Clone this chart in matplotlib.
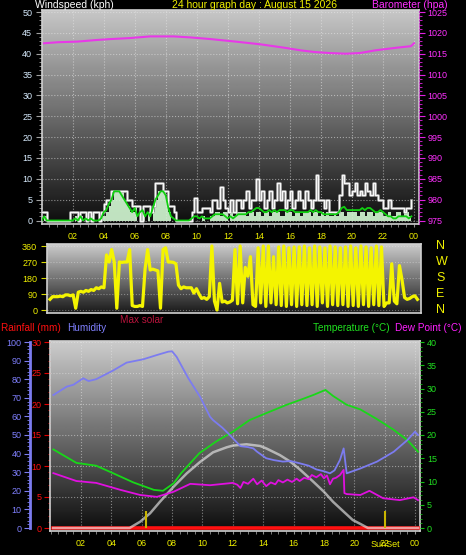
import numpy as np
import matplotlib
matplotlib.use("Agg")
import matplotlib.pyplot as plt
from matplotlib.ticker import MultipleLocator, FixedLocator

plt.rcParams['font.family'] = ['Liberation Sans', 'DejaVu Sans']

W, H = 466, 555

# ---------------- data ----------------
hour_ticks = [2, 4, 6, 8, 10, 12, 14, 16, 18, 20, 22, 24]
hour_labels = ['02', '04', '06', '08', '10', '12', '14', '16', '18', '20', '22', '00']

# wind, 10 minute samples, one row per hour
gust_kph = [
    2, 2, 0, 0, 0, 0,
    0, 0, 0, 0, 0, 2,
    2, 2, 0, 2, 2, 0,
    2, 0, 2, 2, 0, 2,
    4, 5, 5, 7, 7, 7,
    7, 7, 7, 5, 5, 3.5,
    3.5, 3.5, 0, 3.5, 3.5, 3.5,
    2, 3.5, 9, 9, 9, 7,
    7, 3.5, 3.5, 2, 0, 0,
    0, 0, 0, 0, 2, 5.5,
    2, 2, 3, 3, 3, 2,
    5, 5, 3, 8, 5, 3,
    2, 5, 2, 5, 5, 3,
    5, 7, 3, 5, 5, 10,
    5, 7, 3, 5, 7, 3,
    5, 9, 5, 7, 3, 5,
    7, 3, 5, 7, 5, 3,
    7, 5, 3, 5, 10.8, 5,
    5, 3, 5, 2, 2, 2,
    2, 6, 11, 9, 9, 6,
    7, 9, 6, 7, 6, 9,
    7, 6, 9, 6, 5, 5,
    3, 3, 5, 3, 3, 3,
    3, 3, 2, 3, 3, 5,
]
speed_kph = [
    0, 1, 0, 0, 0, 0,
    0, 0, 0, 0, 0, 0,
    0, 1, 0, 1, 0, 0,
    0, 1, 0, 0, 0, 1,
    1, 2, 3.5, 5, 7, 7,
    7, 7, 5, 3.5, 2, 2,
    3.5, 0, 2, 2, 0, 2,
    0, 2, 5, 7, 7, 7,
    5, 2, 0, 0, 0, 0,
    0, 0, 0, 0, 0, 0,
    0, 0, 1, 0, 0, 1,
    1, 2, 2, 1, 2, 2,
    0, 2, 1, 2, 2, 2,
    2, 1, 2, 2, 1, 2,
    2, 1, 2, 2, 1, 2,
    2, 2, 1, 1, 2, 2,
    2, 1, 2, 2, 1, 2,
    2, 2, 1, 2, 2, 1,
    2, 1, 2, 1, 1, 2,
    1, 2, 2, 1, 2, 2,
    2, 2, 1, 2, 2, 1,
    2, 2, 1, 2, 2, 2,
    1, 1, 2, 1, 1, 2,
    2, 1, 2, 2, 1, 2,
]
avg_kph = [
    0, 1, 0, 0, 0, 0,
    0, 0, 0, 0, 0, 0,
    0, 0.5, 0, 1, 0, 0.5,
    0, 0.5, 0, 0, 0, 0.5,
    2, 2.5, 4, 5, 7, 7,
    7, 6, 5, 4, 3, 2,
    3, 1, 2, 2.5, 1, 2,
    1, 3, 5, 6, 7, 7,
    6, 3, 1, 0.5, 0, 0,
    0, 0, 0, 0, 0.5, 1,
    1, 0.5, 1, 0.5, 0.5, 0.5,
    1, 1.5, 1.5, 1.5, 1.5, 1,
    0.5, 1, 0.5, 1, 1.5, 1.5,
    1.5, 1.5, 2, 2, 2.5, 3,
    3, 2.5, 2, 2, 2.5, 2,
    2.5, 2, 2.5, 2.5, 2.5, 2,
    2.5, 2.5, 2, 2, 2, 2,
    2, 2, 2.5, 2, 2.5, 2,
    2, 1.5, 1.5, 1.5, 1.5, 1.5,
    1.5, 2, 3, 3.3, 2.5, 2.5,
    2.5, 2.5, 2.5, 2.5, 3, 2.5,
    3, 3, 2.5, 2, 2, 2.5,
    2, 1.5, 1, 1, 0.5, 0.5,
    1, 1, 1, 1, 0.5, 1,
]
wind_dir = [
    60, 75, 75, 75, 78, 75,
    85, 85, 80, 85, 10, 100,
    105, 100, 110, 105, 115, 110,
    125, 120, 130, 125, 310, 270,
    340, 270, 10, 270, 268, 270,
    270, 340, 25, 20, 20, 25,
    20, 230, 340, 225, 230, 225,
    220, 10, 340, 350, 270, 270,
    268, 260, 140, 120, 130, 125,
    125, 125, 95, 120, 90, 65,
    70, 60, 75, 360, 50, 0,
    150, 45, 50, 40, 45, 55,
    340, 35, 360, 40, 240, 190,
    300, 30, 20, 350, 40, 360,
    20, 360, 40, 300, 30, 355,
    25, 360, 20, 350, 30, 355,
    20, 355, 30, 360, 25, 350,
    30, 360, 20, 355, 40, 350,
    20, 360, 30, 355, 25, 350,
    30, 355, 20, 360, 25, 350,
    20, 360, 30, 355, 20, 350,
    30, 360, 25, 355, 20, 40,
    40, 260, 50, 35, 250, 170,
    70, 60, 65, 75, 80, 60,
]
wind_t = np.arange(len(gust_kph)) / 6.0

baro_t = [0.15, 1.05, 2.3, 3.6, 4.4, 5.7, 7.0, 8.5, 9.6, 10.9, 12.5, 14.1, 15.7, 16.7,
          17.6, 18.6, 19.6, 20.5, 21.5, 22.8, 23.8, 24.0]
baro_hpa = [1017.5, 1017.75, 1017.9, 1018.3, 1018.5, 1018.75, 1019.15, 1019.15, 1018.9,
            1018.5, 1017.9, 1017.25, 1016.4, 1015.8, 1015.4, 1015.15, 1015.0, 1015.15,
            1015.8, 1016.4, 1016.8, 1017.5]

hum_t = [0.18, 1.06, 1.5, 2.15, 2.5, 3.0, 4.1, 5.0, 6.1, 7.0, 7.75, 8.0, 8.3, 9.07, 9.84,
         10.5, 10.7, 11.0, 11.3, 11.8, 12.5, 13.0, 13.35, 13.6, 14.2, 14.7, 15.3, 15.8,
         16.4, 17.0, 17.5, 18.0, 18.4, 18.7, 19.06, 19.3, 19.5, 20.4, 21.5, 22.6, 23.5,
         24.0, 24.2]
hum_pct = [71.5, 76, 77, 80.5, 79, 80, 84.6, 88.9, 90.7, 93, 94.8, 95, 92, 80.5, 70.6,
           59.8, 58, 56, 54, 50, 44, 43.5, 42.8, 41, 37.5, 36.5, 35.7, 36, 34.8, 33.5,
           31.5, 30.5, 29.4, 31, 36.6, 42.8, 29.4, 32, 35.7, 41, 47.3, 51.8, 50]

temp_t = [0.18, 1.7, 3.0, 4.1, 5.45, 6.8, 7.4, 8.1, 8.6, 9.8, 10.9, 12.0, 13.1, 14.2,
          15.55, 16.4, 17.3, 18.1, 18.6, 19.5, 20.4, 21.5, 22.6, 23.5, 24.2]
temp_c = [16.9, 14.0, 13.4, 11.8, 9.8, 8.2, 8.0, 9.6, 11.8, 16.1, 18.6, 20.7, 23.2, 24.7,
          26.5, 27.5, 28.6, 29.7, 28.4, 26.5, 25.5, 23.4, 21.1, 18.9, 16.4]

dew_t = [0.18, 1.7, 3.0, 4.6, 5.9, 7.0, 8.1, 9.2, 10.5, 12.0, 12.3, 12.5, 12.7, 13.0,
         13.35, 13.6, 13.9, 14.2, 14.5, 14.8, 15.0, 15.3, 15.6, 15.9, 16.2, 16.4, 16.7,
         17.0, 17.2, 17.5, 17.8, 18.0, 18.2, 18.4, 18.6, 18.8, 19.06, 19.3, 19.35, 19.5,
         20.4, 21.0, 21.9, 23.0, 23.9, 24.2]
dew_c = [11.8, 10.1, 9.7, 8.2, 7.1, 6.7, 7.8, 9.5, 9.2, 9.7, 9.3, 8.6, 9.9, 9.5,
         10.6, 9.4, 10.2, 9.0, 9.8, 9.4, 10.3, 9.8, 10.4, 9.9, 10.6, 10.1, 10.8,
         10.5, 11.4, 10.9, 11.6, 10.7, 11.3, 9.4, 10.6, 10.8, 11.4, 12.5, 7.5, 7.3,
         7.1, 8.0, 6.4, 6.0, 6.6, 6.0]

solar_t = [0.17, 5.2, 5.9, 6.55, 7.2, 8.1, 8.97, 9.84, 10.7, 11.6, 12.0, 12.9, 13.8, 14.2,
           15.1, 15.8, 16.4, 17.3, 18.0, 18.6, 19.3, 19.9, 20.4, 20.9, 24.2]
solar_max = [0, 0, 34, 79, 141, 222, 294, 355, 407, 434, 443, 450, 441, 428,
             392, 356, 316, 249, 195, 141, 88, 43, 22, 0, 0]

rain_t = [0.17, 24.2]
rain_mm = [0, 0]

sunrise, sunset = 6.26, 22.03

# ---------------- helpers ----------------
def box(l, t, r, b):
    return [l / W, 1 - b / H, (r - l) / W, (b - t) / H]

def ylims(vmax, y0, y1, t, b, base=0):
    s = (y0 - y1) / vmax
    return (base - (b - y0) / s, base + vmax + (y1 - t) / s)

def xlims(xa, ha, xb, hb, l, r):
    s = (xb - xa) / (hb - ha)
    return (ha - (xa - l) / s, hb + (r - xb) / s)

def panel(rect, top, bot):
    ax = fig.add_axes(rect)
    grad = np.linspace(top, bot, 200)[:, None]
    ax.imshow(grad, cmap='gray', vmin=0, vmax=1, aspect='auto', extent=[0, 1, 0, 1],
              transform=ax.transAxes, zorder=0)
    for s in ax.spines.values():
        s.set_color('#d0d0d0')
        s.set_linewidth(1.2)
    return ax

def hours(ax, xl, labels):
    ax.set_xlim(xl)
    ax.xaxis.set_major_locator(FixedLocator(hour_ticks))
    ax.xaxis.set_minor_locator(MultipleLocator(0.5))
    if labels:
        ax.set_xticklabels(hour_labels)
    else:
        ax.set_xticklabels([])
    ax.tick_params(axis='x', which='both', colors='#909090', labelcolor='#f0f000',
                   labelsize=6.5, length=2.5, pad=3)

fig = plt.figure(figsize=(W / 100, H / 100), dpi=100, facecolor='black')

# ---------------- wind speed / barometer ----------------
ax1 = panel(box(42, 10, 419, 224), 0.78, 0.05)
ax1.fill_between(wind_t, speed_kph, step='post', color='#d4fad4', alpha=0.9, lw=0, zorder=2)
ax1.step(wind_t, gust_kph, where='post', color='#a8a8a8', lw=2.0, alpha=0.8, zorder=3)
ax1.step(wind_t, gust_kph, where='post', color='#f8f8f8', lw=1.0, zorder=3)
ax1.plot(wind_t, avg_kph, color='#10d010', lw=1.3, zorder=4)
hours(ax1, xlims(72.7, 2, 414, 24, 42, 419), True)
ax1.set_ylim(ylims(50, 220.5, 12, 10, 224))
ax1.yaxis.set_major_locator(MultipleLocator(5))
ax1.yaxis.set_minor_locator(MultipleLocator(1))
ax1.tick_params(axis='y', which='both', colors='#a0a0a0', labelcolor='#d8ecff',
                labelsize=6.5, length=4, pad=3)
ax1.tick_params(axis='y', which='minor', length=2)
ax1.grid(which='major', color='#e8e8e8', ls=':', lw=0.8, alpha=0.55)

ax1b = ax1.twinx()
ax1b.plot(baro_t, baro_hpa, color='#e838e8', lw=1.5)
ax1b.set_ylim(ylims(50, 220.5, 12, 10, 224, base=975))
ax1b.yaxis.set_major_locator(MultipleLocator(5))
ax1b.yaxis.set_minor_locator(MultipleLocator(1))
ax1b.tick_params(axis='y', which='both', colors='#e020e0', labelcolor='#ff30ff',
                 labelsize=6.5, length=4, pad=2)
ax1b.tick_params(axis='y', which='minor', length=2)
for k in ('top', 'left', 'bottom'):
    ax1b.spines[k].set_visible(False)
ax1b.spines['right'].set_color('#c040c0')
ax1b.spines['right'].set_linestyle(':')

# ---------------- wind direction ----------------
ax2 = panel(box(47, 244, 421, 313), 0.80, 0.10)
ax2.plot(wind_t, wind_dir, color='#f4f400', lw=2.3, zorder=3)
hours(ax2, xlims(50, 0, 420, 24, 47, 421), False)
ax2.tick_params(axis='x', which='both', length=0)
ax2.set_ylim(ylims(360, 310, 246, 244, 313))
ax2.yaxis.set_major_locator(MultipleLocator(90))
ax2.tick_params(axis='y', colors='#d8d800', labelcolor='#f0f000', labelsize=6.5,
                length=4, pad=3)
ax2.grid(axis='y', color='#e8e8e8', ls=':', lw=0.8, alpha=0.4)
for lab, v in zip(['N', 'W', 'S', 'E', 'N'], [360, 270, 180, 90, 0]):
    ax2.text(1.04, v, lab, transform=ax2.get_yaxis_transform(), color='#f0f000',
             fontsize=9, ha='left', va='center')

# ---------------- temperature / humidity / rain ----------------
ax3 = panel(box(50, 341, 420, 531), 0.80, 0.05)
ax3.plot(rain_t, rain_mm, color='#ff1010', lw=2.6, zorder=3)
hours(ax3, xlims(81, 2, 415, 24, 50, 420), True)
ax3.set_ylim(ylims(30, 528, 342, 341, 531))
ax3.yaxis.set_major_locator(MultipleLocator(5))
ax3.yaxis.set_minor_locator(MultipleLocator(1))
ax3.tick_params(axis='y', which='both', colors='#e00000', labelcolor='#ff1010',
                labelsize=6.5, length=4, pad=2)
ax3.tick_params(axis='y', which='minor', length=1.5)
ax3.grid(which='major', color='#e8e8e8', ls=':', lw=0.8, alpha=0.5)

ax_s = ax3.twinx()
ax_s.plot(solar_t, solar_max, color='#e8e8e8', lw=1.8, alpha=0.65)
ax_s.set_ylim(ylims(1000, 528, 342, 341, 531))
ax_s.axis('off')

ax_t = ax3.twinx()
ax_t.plot(temp_t, temp_c, color='#18d818', lw=1.3)
ax_t.plot(dew_t, dew_c, color='#e010e0', lw=1.3)
ax_t.set_ylim(ylims(40, 528, 342, 341, 531))
ax_t.yaxis.set_major_locator(MultipleLocator(5))
ax_t.yaxis.set_minor_locator(MultipleLocator(1))
ax_t.tick_params(axis='y', which='both', colors='#10c010', labelcolor='#20e020',
                 labelsize=6.5, length=3, pad=2)
ax_t.tick_params(axis='y', which='minor', length=1.5)
for k in ('top', 'left', 'bottom', 'right'):
    ax_t.spines[k].set_visible(False)

ax_h = ax3.twinx()
ax_h.plot(hum_t, hum_pct, color='#7c7cf0', lw=1.3)
ax_h.vlines([sunrise, sunset], 0, 9, color='#c8b400', lw=1.5)
ax_h.set_ylim(ylims(100, 528, 342, 341, 531))
ax_h.yaxis.set_ticks_position('left')
ax_h.spines['left'].set_visible(True)
ax_h.spines['left'].set_position(('outward', 14.4))
ax_h.spines['left'].set_bounds(0, 100)
ax_h.spines['left'].set_color('#7c7cf0')
ax_h.spines['left'].set_linewidth(2)
for k in ('top', 'right', 'bottom'):
    ax_h.spines[k].set_visible(False)
ax_h.yaxis.set_major_locator(MultipleLocator(10))
ax_h.yaxis.set_minor_locator(MultipleLocator(2))
ax_h.tick_params(axis='y', which='both', colors='#7c7cf0', labelcolor='#8080ff',
                 labelsize=6.5, length=4, pad=2)
ax_h.tick_params(axis='y', which='minor', length=2)
ax3.text(sunset, -0.07, 'SunSet', transform=ax3.get_xaxis_transform(), color='#f0f000',
         fontsize=6.5, ha='center', va='center')

# ---------------- titles and labels ----------------
def label(x, y, s, c, size=7.2):
    fig.text(x / W, 1 - y / H, s, color=c, fontsize=size, ha='left', va='center')

label(35, 5, 'Windspeed (kph)', 'white', 7.5)
label(172, 5, '24 hour graph day : August 15 2026', '#f0f000', 7.5)
label(372, 5, 'Barometer (hpa)', '#ff30ff', 7.5)
label(1, 328, 'Rainfall (mm)', '#ff1010')
label(67, 328, 'Humidity', '#8080ff')
label(120, 320, 'Max solar', '#b8143c')
label(313, 328, 'Temperature (°C)', '#20e020')
label(395, 328, 'Dew Point (°C)', '#ff20ff')

fig.savefig('out.png', dpi=100, facecolor='black')
